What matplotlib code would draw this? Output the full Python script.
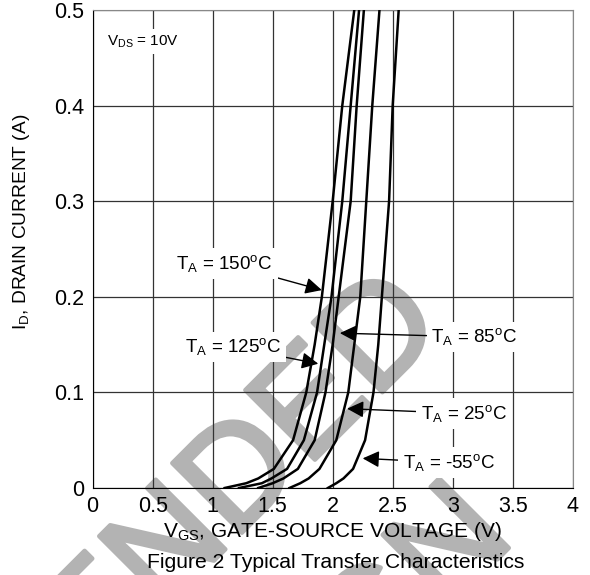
import numpy as np
import matplotlib
matplotlib.use('Agg')
from matplotlib import pyplot as plt
from matplotlib import patheffects as pe

plt.rcParams['font.family'] = ['Liberation Sans', 'DejaVu Sans']
plt.rcParams['mathtext.fontset'] = 'custom'
plt.rcParams['mathtext.rm'] = 'Liberation Sans'
plt.rcParams['mathtext.it'] = 'Liberation Sans'

# drain current levels (A) and gate voltage (V) for each temperature
i_d = [0, 0.005, 0.01, 0.02, 0.05, 0.10, 0.15, 0.20, 0.30, 0.40, 0.50]
vgs_150 = [1.10, 1.28, 1.38, 1.51, 1.67, 1.78, 1.85, 1.91, 2.00, 2.08, 2.18]
vgs_125 = [1.22, 1.41, 1.49, 1.62, 1.76, 1.87, 1.93, 1.99, 2.08, 2.15, 2.22]
vgs_85 = [1.38, 1.50, 1.59, 1.71, 1.85, 1.94, 2.00, 2.05, 2.15, 2.20, 2.26]
vgs_25 = [1.64, 1.73, 1.80, 1.89, 2.03, 2.13, 2.18, 2.23, 2.28, 2.33, 2.39]
vgs_m55 = [1.96, 2.03, 2.09, 2.17, 2.27, 2.34, 2.38, 2.41, 2.47, 2.50, 2.55]

curves = [vgs_150, vgs_125, vgs_85, vgs_25, vgs_m55]
labels = ['T$_\\mathrm{A}$ = 150$^\\mathrm{o}$C', 'T$_\\mathrm{A}$ = 125$^\\mathrm{o}$C',
          'T$_\\mathrm{A}$ = 85$^\\mathrm{o}$C', 'T$_\\mathrm{A}$ = 25$^\\mathrm{o}$C',
          'T$_\\mathrm{A}$ = -55$^\\mathrm{o}$C']
# arrow tip and label centre (V, A)
tips = [(1.91, 0.207), (1.88, 0.130), (2.06, 0.162), (2.12, 0.083), (2.25, 0.031)]
label_pos = [(1.10, 0.235), (1.17, 0.1475), (3.18, 0.158), (3.09, 0.078), (2.97, 0.0265)]

xticks = [0, 0.5, 1, 1.5, 2, 2.5, 3, 3.5, 4]
xticklabels = ['0', '0.5', '1', '1.5', '2', '2.5', '3', '3.5', '4']
yticks = [0, 0.1, 0.2, 0.3, 0.4, 0.5]
yticklabels = ['0', '0.1', '0.2', '0.3', '0.4', '0.5']

fig = plt.figure(figsize=(5.9, 5.75), dpi=100)
ax = fig.add_axes([0.157, 0.1513, 0.8137, 0.8313])
ax.set_facecolor('none')

# watermark behind the axes
wm = dict(fontsize=103, color='#b3b3b3', rotation=45,
          rotation_mode='anchor', ha='right', va='baseline', zorder=-5,
          path_effects=[pe.withStroke(linewidth=3.2, foreground='#b3b3b3')])
fig.text(0.757, 0.4296, 'NOT RECOMMENDED', **wm)
fig.text(0.876, 0.061, 'FOR NEW DESIGN', **wm)

for v in curves:
    ax.plot(v, i_d, color='k', lw=1.8, zorder=3)

for lab, tip, pos in zip(labels, tips, label_pos):
    ax.annotate(lab, xy=tip, xytext=pos, ha='center', va='center', fontsize=13.5,
                bbox=dict(boxstyle='square,pad=0.25', fc='white', ec='none'),
                arrowprops=dict(arrowstyle='-|>', color='k', lw=1, mutation_scale=25,
                                shrinkA=0, shrinkB=0),
                zorder=4)

ax.text(0.117, 0.467, 'V$_\\mathrm{DS}$ = 10V', ha='left', va='center', fontsize=11,
        bbox=dict(boxstyle='square,pad=0.3', fc='white', ec='none'), zorder=4)

ax.set_xlim(0, 4)
ax.set_ylim(0, 0.5)
ax.set_xticks(xticks)
ax.set_xticklabels(xticklabels)
ax.set_yticks(yticks)
ax.set_yticklabels(yticklabels)
ax.tick_params(length=0, labelsize=15.5, pad=6)
ax.grid(True, color='#333333', lw=0.9)
ax.set_axisbelow(True)
ax.spines['top'].set_color('#888888')
ax.spines['right'].set_color('#888888')
ax.set_xlabel('V$_\\mathrm{GS}$, GATE-SOURCE VOLTAGE (V)', fontsize=15, labelpad=2)
ax.set_ylabel('I$_\\mathrm{D}$, DRAIN CURRENT (A)', fontsize=13.8)
ax.yaxis.set_label_coords(-0.127, 0.556)
fig.text(0.5695, 0.0122, 'Figure 2 Typical Transfer Characteristics', ha='center',
         va='baseline', fontsize=15.2)

plt.savefig('out.png', dpi=100)
